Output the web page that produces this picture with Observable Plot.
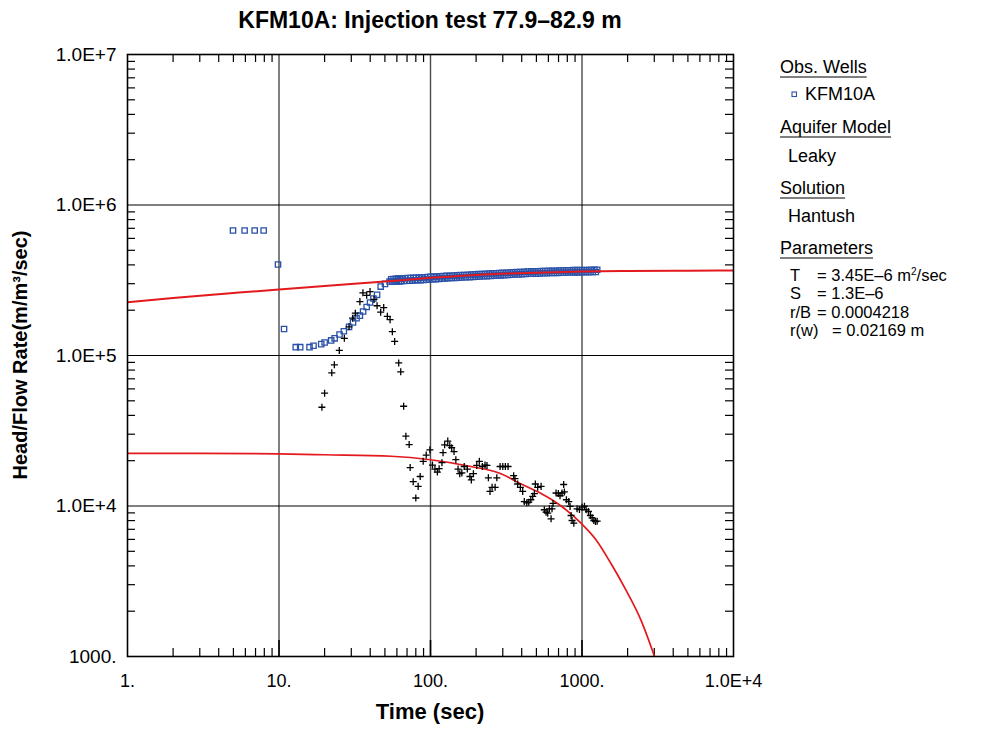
<!DOCTYPE html>
<html>
<head>
<meta charset="utf-8">
<script src="https://cdn.jsdelivr.net/npm/d3@7"></script>
<script src="https://cdn.jsdelivr.net/npm/@observablehq/plot@0.6"></script>
<style>
  html, body { margin: 0; padding: 0; background: #fff; }
  #chart { width: 987px; height: 729px; }
</style>
</head>
<body>
<div id="chart"></div>
<script>
// ---------- data ----------
const chartTitle = "KFM10A: Injection test 77.9–82.9 m";
const xTitle = "Time (sec)";
const yTitle = "Head/Flow Rate(m/m³/sec)";

const xTickValues = [1, 10, 100, 1000, 10000];
const xTickLabels = ["1.", "10.", "100.", "1000.", "1.0E+4"];
const yTickValues = [1000, 1e4, 1e5, 1e6, 1e7];
const yTickLabels = ["1000.", "1.0E+4", "1.0E+5", "1.0E+6", "1.0E+7"];

// observed head / flow rate (KFM10A): early points, time (s)
const obsEarlyTime = [4.97, 5.93, 6.91, 7.92, 9.85, 10.8, 12.9, 13.8, 15.9, 16.9, 19.0, 20.0, 22.1, 23.3, 25.1, 26.8, 29.0, 30.8, 32.5, 34.2, 35.9, 37.9, 39.9, 42.0, 44.4, 46.9, 50.1, 53.7];
const obsEarlyValue = [6.77e5, 6.77e5, 6.77e5, 6.77e5, 4.02e5, 1.50e5, 1.136e5, 1.136e5, 1.136e5, 1.16e5, 1.19e5, 1.22e5, 1.26e5, 1.30e5, 1.38e5, 1.45e5, 1.55e5, 1.66e5, 1.77e5, 1.84e5, 1.96e5, 2.10e5, 2.25e5, 2.39e5, 2.53e5, 2.87e5, 2.99e5, 3.10e5];
// observed head / flow rate (KFM10A): dense late band, time (s)
const obsLateTime = [55, 56, 57, 58, 59, 60, 61, 62, 63, 64,
  65, 67, 68, 70, 71, 73, 74, 76, 77, 79,
  80, 82, 84, 86, 88, 90, 92, 94, 96, 98,
  100, 103, 105, 108, 110, 113, 116, 119, 122, 125,
  128, 131, 135, 138, 142, 146, 150, 154, 158, 162,
  167, 171, 176, 181, 186, 191, 196, 201, 207, 212,
  218, 224, 230, 236, 243, 249, 256, 263, 270, 277,
  285, 292, 300, 308, 317, 325, 334, 343, 352, 362,
  372, 382, 392, 403, 414, 425, 437, 449, 461, 473,
  486, 499, 513, 527, 541, 556, 571, 586, 602, 618,
  635, 652, 670, 688, 707, 726, 746, 766, 787, 808,
  830, 853, 876, 900, 924, 949, 975, 1002, 1029, 1057,
  1085, 1115, 1145, 1176, 1208, 1234, 1260];
// values in units of 1e5
const obsLateValue = [3.21, 3.09, 3.22, 3.10, 3.23, 3.11, 3.24, 3.11, 3.24, 3.12,
  3.25, 3.13, 3.26, 3.14, 3.27, 3.14, 3.27, 3.15, 3.28, 3.16,
  3.28, 3.16, 3.29, 3.17, 3.30, 3.18, 3.31, 3.19, 3.32, 3.20,
  3.33, 3.21, 3.34, 3.22, 3.35, 3.23, 3.36, 3.24, 3.37, 3.25,
  3.38, 3.26, 3.39, 3.27, 3.40, 3.28, 3.41, 3.29, 3.42, 3.30,
  3.43, 3.31, 3.44, 3.32, 3.45, 3.33, 3.46, 3.34, 3.47, 3.35,
  3.48, 3.36, 3.49, 3.37, 3.50, 3.38, 3.51, 3.39, 3.52, 3.40,
  3.53, 3.41, 3.54, 3.42, 3.55, 3.43, 3.56, 3.44, 3.57, 3.45,
  3.58, 3.46, 3.59, 3.47, 3.60, 3.48, 3.61, 3.49, 3.62, 3.50,
  3.62, 3.50, 3.63, 3.51, 3.64, 3.52, 3.64, 3.52, 3.65, 3.53,
  3.66, 3.54, 3.66, 3.54, 3.67, 3.55, 3.67, 3.55, 3.68, 3.56,
  3.68, 3.56, 3.69, 3.57, 3.69, 3.57, 3.70, 3.58, 3.70, 3.58,
  3.70, 3.58, 3.71, 3.59, 3.71, 3.59, 3.71];

// derivative data (black crosses)
const derTime = [19.2, 20.0, 22.3, 23.2, 25.0, 27.0, 29.0, 30.6, 31.9, 34.2, 35.8, 37.9, 39.9, 42.4, 44.4, 46.9, 49.1, 51.9, 54.1, 56.0, 58.0, 61.7, 63.6, 66.5,
  68.8, 72.3, 73.4, 76.9, 80.0, 82.9, 85.5, 89.5, 93.7, 99.1, 103, 107, 111, 114, 119, 121, 124, 130, 134, 138, 143, 147, 152, 156, 161, 167, 175, 182, 186, 192, 202, 210, 220, 229, 236, 241, 247, 255, 267, 274, 288, 300, 312, 325,
  354, 361, 376, 392, 406, 416, 432, 445, 459, 473, 485, 492, 510, 537, 564, 579, 594, 609, 625, 634, 644, 674, 698, 716, 738, 757, 765, 789, 818, 834, 847, 860, 883, 928, 962, 1002, 1038, 1065, 1103, 1136, 1166, 1197, 1227, 1259];
const derValue = [4.53e4, 5.62e4, 7.67e4, 8.67e4, 1.08e5, 1.30e5, 1.55e5, 1.77e5, 1.91e5, 2.28e5, 2.61e5, 2.51e5, 2.66e5, 2.36e5, 2.14e5, 1.94e5, 2.08e5, 1.82e5, 1.73e5, 1.44e5, 1.24e5, 8.93e4, 7.79e4, 4.60e4,
  2.91e4, 2.56e4, 1.80e4, 1.45e4, 1.13e4, 1.35e4, 1.57e4, 1.98e4, 2.18e4, 2.36e4, 1.87e4, 1.76e4, 1.68e4, 1.77e4, 1.94e4, 2.26e4, 2.55e4, 2.70e4, 2.52e4, 2.44e4, 2.30e4, 2.03e4, 1.76e4, 1.64e4, 1.66e4, 1.83e4, 1.76e4, 1.57e4, 1.49e4, 1.64e4, 1.86e4, 1.98e4, 1.83e4, 1.87e4, 1.86e4, 1.54e4, 1.25e4, 1.33e4, 1.33e4, 1.54e4, 1.83e4, 1.83e4, 1.83e4, 1.83e4,
  1.59e4, 1.52e4, 1.40e4, 1.33e4, 1.25e4, 1.07e4, 1.05e4, 1.06e4, 1.10e4, 1.16e4, 1.21e4, 1.40e4, 1.33e4, 1.35e4, 9.44e3, 9.10e3, 8.96e3, 9.58e3, 8.22e3, 9.58e3, 1.04e4, 1.22e4, 1.21e4, 1.17e4, 1.22e4, 1.39e4, 1.24e4, 1.10e4, 1.07e4, 9.93e3, 8.65e3, 8.01e3, 7.69e3, 9.58e3, 9.48e3, 9.82e3, 9.97e3, 9.44e3, 9.19e3, 8.65e3, 8.35e3, 8.01e3, 7.89e3, 7.93e3];

// Hantush type curve (upper red)
const curveTime = [1, 2, 5, 10, 20, 50, 100, 200, 500, 1000, 2000, 5000, 10000];
const curveValue = [2.26e5, 2.41e5, 2.60e5, 2.75e5, 2.90e5, 3.10e5, 3.28e5, 3.43e5, 3.55e5, 3.61e5, 3.64e5, 3.66e5, 3.67e5];

// Hantush derivative curve (lower red)
const dCurveTime = [1, 3, 10, 20, 55, 100, 185, 292, 396, 537, 728, 997, 1240, 1557, 1955, 2458, 3010];
const dCurveValue = [2.24e4, 2.24e4, 2.22e4, 2.19e4, 2.14e4, 2.03e4, 1.83e4, 1.64e4, 1.40e4, 1.21e4, 1.00e4, 7.6e3, 5.95e3, 4.13e3, 2.75e3, 1.73e3, 1.0e3];

const minorMult = [2, 3, 4, 5, 6, 7, 8, 9];
const xDecades = [1, 10, 100, 1000];
const yDecades = [1000, 1e4, 1e5, 1e6];

// legend text
const legendSections = [
  {head: "Obs. Wells", lines: ["KFM10A"], symbol: true},
  {head: "Aquifer Model", lines: ["Leaky"]},
  {head: "Solution", lines: ["Hantush"]},
  {head: "Parameters", lines: []}
];
const paramNames = ["T", "S", "r/B", "r(w)"];
const paramValues = ["= 3.45E–6 m", "= 1.3E–6", "= 0.0004218", "= 0.02169 m"];

// ---------- build ----------
const W = 987, H = 729, mL = 127, mR = 254, mT = 54, mB = 73;
const pW = W - mL - mR, pH = H - mT - mB;
const RED = "#e3191e", BLUE = "#2a51a8";

const obs = obsEarlyTime.map((t, i) => ({t, v: obsEarlyValue[i]}))
  .concat(obsLateTime.map((t, i) => ({t, v: obsLateValue[i] * 1e5})));
const der = derTime.map((t, i) => ({t, v: derValue[i]}));
const curve = curveTime.map((t, i) => ({t, v: curveValue[i]}));
const dCurve = dCurveTime.map((t, i) => ({t, v: dCurveValue[i]}));
const xMinor = xDecades.flatMap(d => minorMult.map(m => d * m));
const yMinor = yDecades.flatMap(d => minorMult.map(m => d * m));

const xFmt = d => xTickLabels[xTickValues.indexOf(d)];
const yFmt = d => yTickLabels[yTickValues.indexOf(d)];

const svg = Plot.plot({
  width: W, height: H,
  marginLeft: mL, marginRight: mR, marginTop: mT, marginBottom: mB,
  style: {fontFamily: "'Liberation Sans', Arial, sans-serif", fontSize: "18px", color: "black", background: "white", overflow: "visible"},
  x: {type: "log", domain: [1, 1e4]},
  y: {type: "log", domain: [1000, 1e7]},
  marks: [
    Plot.ruleX(xTickValues.slice(1, 4), {stroke: "#4a4a4a", strokeWidth: 1.4}),
    Plot.ruleY(yTickValues.slice(1, 4), {stroke: "black", strokeWidth: 1.2}),
    Plot.tickX(xMinor, {insetTop: pH - 8, stroke: "black", strokeWidth: 1.2}),
    Plot.tickX(xMinor, {insetBottom: pH - 8, stroke: "black", strokeWidth: 1.2}),
    Plot.tickX(xTickValues.slice(1, 4), {insetTop: pH - 16, stroke: "black", strokeWidth: 1.6}),
    Plot.tickY(yMinor, {insetRight: pW - 8, stroke: "black", strokeWidth: 1.2}),
    Plot.tickY(yMinor, {insetLeft: pW - 8, stroke: "black", strokeWidth: 1.2}),
    Plot.axisX(xTickValues, {tickSize: 0, tickPadding: 18, tickFormat: xFmt, label: null, fontSize: 18}),
    Plot.axisY(yTickValues, {tickSize: 0, tickPadding: 11, tickFormat: yFmt, label: null, fontSize: 19}),
    Plot.dot(obs, {x: "t", y: "v", symbol: "square", r: 3.0, stroke: BLUE, fill: "none", strokeWidth: 1.3}),
    Plot.line(curve, {x: "t", y: "v", stroke: RED, strokeWidth: 2, curve: "monotone-x", clip: true}),
    Plot.line(dCurve, {x: "t", y: "v", stroke: RED, strokeWidth: 1.7, curve: "monotone-x", clip: true}),
    Plot.dot(der, {x: "t", y: "v", symbol: "plus", r: 2.4, stroke: "black", strokeWidth: 1.3}),
    Plot.frame({stroke: "black", strokeWidth: 1.6})
  ]
});
document.getElementById("chart").appendChild(svg);

// ---------- text overlays inside the svg ----------
const s = d3.select(svg);
const cx = mL + pW / 2;
const FONT = "'Liberation Sans', Arial, sans-serif";

s.append("text").attr("x", cx).attr("y", 28).attr("text-anchor", "middle")
  .attr("font-family", FONT).attr("font-size", 23).attr("font-weight", "bold").text(chartTitle);
s.append("text").attr("x", cx).attr("y", 719).attr("text-anchor", "middle")
  .attr("font-family", FONT).attr("font-size", 22).attr("font-weight", "bold").text(xTitle);
s.append("text").attr("transform", `translate(27,${mT + pH / 2}) rotate(-90)`).attr("text-anchor", "middle")
  .attr("font-family", FONT).attr("font-size", 20).attr("font-weight", "bold").text(yTitle);

// legend
const lg = s.append("g").attr("font-family", FONT).attr("font-size", 18).attr("fill", "black")
  .attr("text-anchor", "start");
const heads = [73, 133, 194, 254];
const subs = [100, 162, 222];
legendSections.forEach((sec, i) => {
  const t = lg.append("text").attr("text-anchor", "start").attr("x", 780).attr("y", heads[i]).text(sec.head);
  const w = t.node().getComputedTextLength();
  lg.append("line").attr("x1", 780).attr("x2", 780 + w).attr("y1", heads[i] + 4).attr("y2", heads[i] + 4)
    .attr("stroke", "black").attr("stroke-width", 1.2);
  sec.lines.forEach(l => {
    lg.append("text").attr("text-anchor", "start").attr("x", sec.symbol ? 805 : 788).attr("y", subs[i]).text(l);
  });
  if (sec.symbol) {
    lg.append("rect").attr("x", 792).attr("y", subs[i] - 8).attr("width", 4.5).attr("height", 4.5)
      .attr("fill", "none").attr("stroke", BLUE).attr("stroke-width", 1.1);
  }
});
const pY = [280.5, 299, 317.5, 336];
paramNames.forEach((n, i) => {
  lg.append("text").attr("text-anchor", "start").attr("font-size", 16.5).attr("x", 790).attr("y", pY[i]).text(n);
  const v = lg.append("text").attr("text-anchor", "start").attr("font-size", 16.5)
    .attr("x", i === 3 ? 832 : 817).attr("y", pY[i]).text(paramValues[i]);
  if (i === 0) {
    v.append("tspan").attr("font-size", 10).attr("dy", -6).text("2");
    v.append("tspan").attr("dy", 6).text("/sec");
  }
});
</script>
</body>
</html>
